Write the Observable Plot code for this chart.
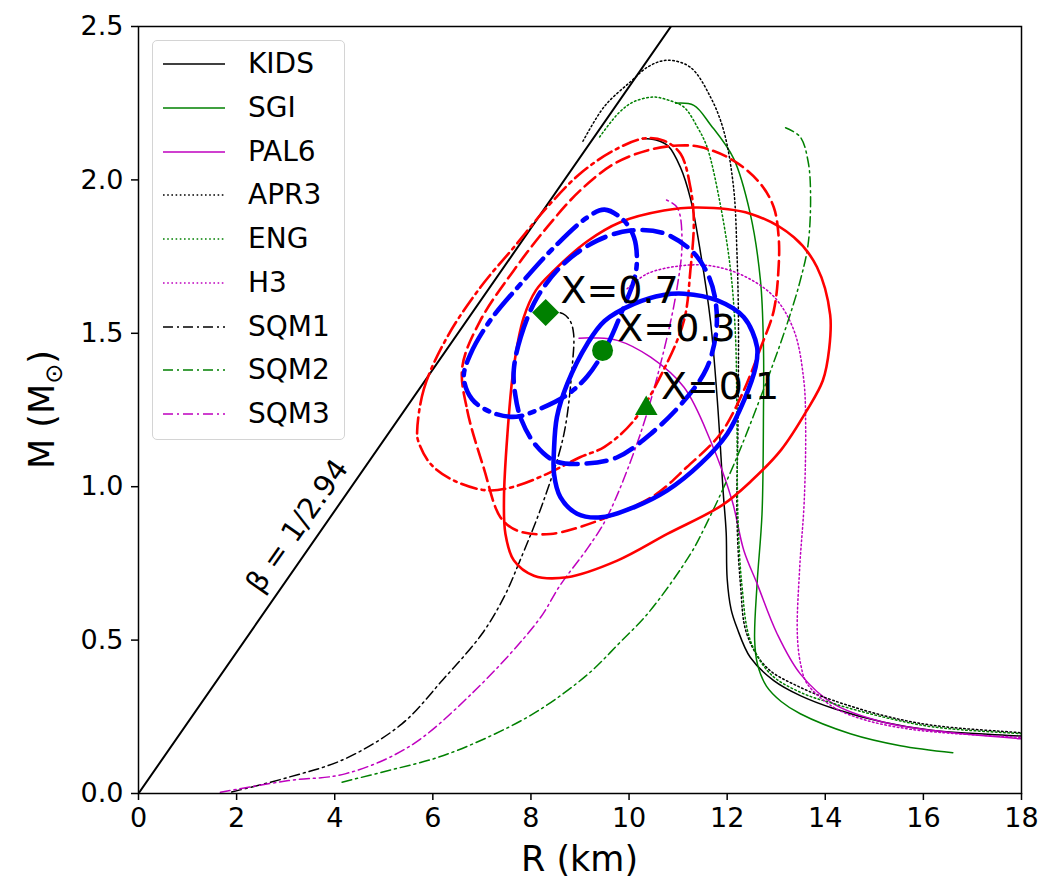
<!DOCTYPE html>
<html><head><meta charset="utf-8">
<script src="https://cdn.jsdelivr.net/npm/d3@7"></script>
<script src="https://cdn.jsdelivr.net/npm/@observablehq/plot@0.6"></script>
<style>
body{margin:0;background:#fff;font-family:"DejaVu Sans",sans-serif}
#wrap{position:relative;width:1060px;height:881px}
#legend{position:absolute;left:152px;top:40px;width:193px;height:400px;border:1.5px solid #d4d4d4;border-radius:5px;background:rgba(255,255,255,0.85);box-sizing:border-box}
.lg-row{position:absolute;left:0;height:40px;width:190px}
.lg-row svg{position:absolute;left:10px;top:0}
.lg-row span{position:absolute;left:95px;top:50%;transform:translateY(-50%);font-size:28px;color:#000;line-height:1;white-space:nowrap}
</style></head>
<body><div id="wrap"></div>
<script>
// ---- EOS mass-radius curves (R in km, M in solar masses) ----
const KIDS_R = [10.27, 10.55, 10.8, 11.05, 11.25, 11.46, 11.66, 11.8, 11.92, 11.98, 12.0, 12.08, 12.2, 12.47, 12.95, 13.49, 14.17, 15.19, 16.2, 18.0, 18.6];
const KIDS_M = [2.135, 2.13, 2.11, 2.04, 1.94, 1.76, 1.54, 1.28, 0.98, 0.85, 0.70, 0.60, 0.54, 0.444, 0.368, 0.319, 0.277, 0.232, 0.205, 0.187, 0.18];
const SGI_R = [10.95, 11.32, 11.66, 12.13, 12.47, 12.68, 12.74, 12.74, 12.71, 12.61, 12.56, 12.62, 12.8, 13.1, 13.49, 14.51, 15.53, 16.6];
const SGI_M = [2.25, 2.243, 2.18, 2.07, 1.89, 1.67, 1.455, 1.24, 0.91, 0.684, 0.50, 0.42, 0.35, 0.30, 0.26, 0.195, 0.156, 0.133];
const PAL6_R = [8.98, 9.3, 9.76, 10.44, 11.12, 11.66, 12.1, 12.34, 12.61, 13.02, 13.49, 14.17, 15.19, 16.2, 18.0, 18.6];
const PAL6_M = [1.484, 1.485, 1.477, 1.422, 1.324, 1.15, 0.955, 0.792, 0.684, 0.52, 0.39, 0.292, 0.232, 0.205, 0.178, 0.172];
const APR3_R = [9.06, 9.5, 10.03, 10.4, 10.78, 11.25, 11.66, 11.93, 12.13, 12.2, 12.23, 12.22, 12.2, 12.27, 12.4, 12.81, 13.49, 14.17, 15.19, 16.2, 18.0, 18.6];
const APR3_M = [2.126, 2.24, 2.32, 2.37, 2.39, 2.367, 2.27, 2.16, 1.976, 1.76, 1.54, 1.2, 0.9, 0.684, 0.52, 0.41, 0.346, 0.303, 0.254, 0.222, 0.198, 0.19];
const ENG_R = [9.4, 9.8, 10.1, 10.5, 10.8, 11.12, 11.4, 11.59, 11.86, 12.07, 12.17, 12.2, 12.22, 12.3, 12.47, 12.88, 13.49, 14.17, 15.19, 16.2, 18.0, 18.6];
const ENG_M = [2.14, 2.22, 2.255, 2.27, 2.26, 2.237, 2.17, 2.107, 1.92, 1.705, 1.49, 1.2, 0.9, 0.68, 0.50, 0.39, 0.33, 0.293, 0.249, 0.217, 0.195, 0.19];
const H3_R = [9.96, 10.37, 11.05, 11.66, 12.3, 12.95, 13.36, 13.56, 13.6, 13.57, 13.48, 13.43, 13.5, 13.63, 14.17, 14.85, 15.67, 16.5, 18.0, 18.6];
const H3_M = [1.645, 1.694, 1.72, 1.72, 1.69, 1.62, 1.51, 1.35, 1.2, 0.95, 0.74, 0.52, 0.42, 0.358, 0.281, 0.238, 0.211, 0.197, 0.183, 0.178];
const SQM1_R = [1.9, 3.06, 4.21, 5.37, 6.2, 7.0, 7.45, 7.75, 8.26, 8.67, 8.84, 8.87, 8.8, 8.65, 8.45];
const SQM1_M = [0.005, 0.053, 0.113, 0.227, 0.37, 0.52, 0.64, 0.749, 0.955, 1.17, 1.39, 1.498, 1.54, 1.564, 1.57];
const SQM2_R = [4.15, 5.1, 6.11, 7.13, 8.15, 9.17, 9.8, 10.4, 11.25, 11.55, 12.13, 12.81, 13.2, 13.49, 13.65, 13.7, 13.65, 13.49, 13.19];
const SQM2_M = [0.037, 0.075, 0.118, 0.184, 0.27, 0.39, 0.49, 0.59, 0.78, 0.87, 1.07, 1.346, 1.52, 1.672, 1.79, 1.95, 2.06, 2.14, 2.17];
const SQM3_R = [1.67, 3.06, 4.21, 5.5, 6.79, 8.15, 8.6, 9.17, 9.55, 10.23, 10.71, 10.98, 11.08, 10.98, 10.71];
const SQM3_M = [0.004, 0.042, 0.064, 0.151, 0.325, 0.564, 0.68, 0.803, 0.9, 1.172, 1.444, 1.65, 1.80, 1.91, 1.938];

// ---- constraint contours ----
const RED01_R = [7.45, 7.52, 7.65, 7.85, 8.1, 8.47, 9.15, 9.82, 10.71, 11.4, 12.47, 13.36, 13.83, 14.1, 14.08, 13.95, 13.63, 13.1, 12.5, 11.9, 10.78, 9.76, 8.74, 8.06, 7.65, 7.48];
const RED01_M = [0.96, 1.17, 1.39, 1.55, 1.64, 1.705, 1.80, 1.862, 1.90, 1.91, 1.89, 1.813, 1.716, 1.56, 1.45, 1.346, 1.25, 1.12, 1.02, 0.94, 0.846, 0.759, 0.705, 0.71, 0.76, 0.846];
const RED03_R = [6.6, 6.7, 7.04, 7.38, 7.72, 8.4, 9.55, 10.5, 11.18, 11.86, 12.3, 12.7, 12.95, 13.05, 13.05, 12.95, 12.68, 12.13, 11.46, 11.0, 10.37, 9.69, 9.0, 8.33, 7.65, 6.97];
const RED03_M = [1.39, 1.25, 1.06, 0.9, 0.857, 0.846, 0.9, 0.97, 1.064, 1.172, 1.3, 1.46, 1.574, 1.72, 1.813, 1.911, 1.987, 2.063, 2.107, 2.112, 2.096, 2.052, 1.965, 1.846, 1.705, 1.542];
const RED07_R = [5.68, 5.82, 6.29, 6.97, 7.65, 8.33, 9.0, 9.69, 10.3, 10.71, 11.05, 11.25, 11.32, 11.25, 11.12, 10.7, 10.1, 9.5, 9.0, 8.33, 7.65, 7.11, 6.43, 5.95, 5.7];
const RED07_M = [1.18, 1.32, 1.487, 1.65, 1.78, 1.911, 2.02, 2.096, 2.135, 2.128, 2.085, 1.976, 1.868, 1.705, 1.542, 1.379, 1.216, 1.13, 1.096, 1.042, 1.0, 0.988, 1.02, 1.075, 1.15];
const BLUE01_R = [8.47, 8.53, 8.74, 9.15, 9.5, 10.1, 10.7, 11.12, 11.8, 12.34, 12.61, 12.58, 12.34, 12.0, 11.46, 10.78, 10.1, 9.42, 8.94, 8.6, 8.47];
const BLUE01_M = [1.12, 1.227, 1.335, 1.466, 1.54, 1.596, 1.625, 1.629, 1.607, 1.552, 1.455, 1.39, 1.28, 1.172, 1.075, 0.988, 0.933, 0.9, 0.912, 0.966, 1.042];
const BLUE03_R = [7.65, 7.79, 8.13, 8.67, 9.35, 10.03, 10.71, 11.3, 11.6, 11.75, 11.78, 11.58, 11.12, 10.44, 9.76, 9.08, 8.5, 8.1, 7.8, 7.68];
const BLUE03_M = [1.38, 1.487, 1.618, 1.727, 1.802, 1.835, 1.826, 1.765, 1.694, 1.618, 1.51, 1.385, 1.28, 1.172, 1.096, 1.075, 1.083, 1.135, 1.22, 1.3];
const BLUE07_R = [6.63, 6.77, 7.17, 7.79, 8.47, 9.15, 9.5, 9.89, 10.1, 10.16, 10.1, 9.89, 9.55, 9.15, 8.74, 8.2, 7.7, 7.2, 6.8];
const BLUE07_M = [1.357, 1.433, 1.542, 1.661, 1.78, 1.878, 1.903, 1.868, 1.813, 1.737, 1.672, 1.585, 1.46, 1.36, 1.3, 1.255, 1.228, 1.242, 1.285];

// ---- markers and labels ----
const markerLabels = ["X=0.7", "X=0.3", "X=0.1"];
const markerR = [8.3, 9.46, 10.35];
const markerM = [1.568, 1.444, 1.255];
const markerSymbols = ["diamond2", "circle", "triangle"];
const markerSizes = [12.2, 10.5, 8.4];
const labelR = [8.6, 9.76, 10.65];
const labelM = [1.598, 1.474, 1.285];

// compactness line beta = GM/(Rc^2) = 1/2.94
const betaR = [0, 11.5];
const betaLabel = ["β = 1/2.94"];
const betaLabelR = [3.24];
const betaLabelM = [0.872];

const xTicks = [0, 2, 4, 6, 8, 10, 12, 14, 16, 18];
const yTicks = [0.0, 0.5, 1.0, 1.5, 2.0, 2.5];

const eosNames = ["KIDS", "SGI", "PAL6", "APR3", "ENG", "H3", "SQM1", "SQM2", "SQM3"];
const eosR = [KIDS_R, SGI_R, PAL6_R, APR3_R, ENG_R, H3_R, SQM1_R, SQM2_R, SQM3_R];
const eosM = [KIDS_M, SGI_M, PAL6_M, APR3_M, ENG_M, H3_M, SQM1_M, SQM2_M, SQM3_M];

const BLACK = "#000000", GREEN = "#008000", MAG = "#bf00bf", RED = "#ff0000", BLUE = "#0000ff";
const eosColors = [BLACK, GREEN, MAG, BLACK, GREEN, MAG, BLACK, GREEN, MAG];
const DOT = "1.6,2.6", DASHDOT = "10,4,2,4";
const eosDash = [null, null, null, DOT, DOT, DOT, DASHDOT, DASHDOT, DASHDOT];

const contourR = [RED01_R, RED03_R, RED07_R, BLUE01_R, BLUE03_R, BLUE07_R];
const contourM = [RED01_M, RED03_M, RED07_M, BLUE01_M, BLUE03_M, BLUE07_M];
const contourColors = [RED, RED, RED, BLUE, BLUE, BLUE];
const contourWidths = [2.6, 2.6, 2.6, 4.6, 4.6, 4.6];
const contourDash = [null, "14,6", "16,5,3,5", null, "20,9", "26,8,5,8"];

const toRows = (R, M) => R.map((r, i) => ({R: r, M: M[i]}));
const betaRows = betaR.map(r => ({R: r, M: r / (2.94 * 1.4766)}));

const marks = [];
marks.push(Plot.line(betaRows, {x: "R", y: "M", stroke: BLACK, strokeWidth: 2, clip: true}));
eosR.forEach((R, i) => {
  marks.push(Plot.line(toRows(R, eosM[i]), {x: "R", y: "M", stroke: eosColors[i], strokeWidth: 1.5,
    strokeDasharray: eosDash[i] || undefined, curve: "catmull-rom", clip: true}));
});
contourR.forEach((R, i) => {
  marks.push(Plot.line(toRows(R, contourM[i]), {x: "R", y: "M", stroke: contourColors[i], strokeWidth: contourWidths[i],
    strokeDasharray: contourDash[i] || undefined, curve: "catmull-rom-closed", clip: true}));
});
markerR.forEach((r, i) => {
  marks.push(Plot.dot([{R: r, M: markerM[i]}], {x: "R", y: "M", symbol: markerSymbols[i], r: markerSizes[i], fill: GREEN, stroke: "none"}));
});
marks.push(Plot.text(labelR.map((r, i) => ({R: r, M: labelM[i], t: markerLabels[i]})),
  {x: "R", y: "M", text: "t", textAnchor: "start", lineAnchor: "bottom", fontSize: 38, fill: BLACK}));
marks.push(Plot.text(betaLabel.map((t, i) => ({R: betaLabelR[i], M: betaLabelM[i], t})),
  {x: "R", y: "M", text: "t", rotate: -55, fontSize: 29, fill: BLACK}));
marks.push(Plot.frame({stroke: BLACK, strokeWidth: 1.5}));
marks.push(Plot.axisX({ticks: xTicks, tickSize: 7, tickPadding: 7, fontSize: 27, label: null, strokeWidth: 1.5, tickFormat: d => String(d)}));
marks.push(Plot.axisY({ticks: yTicks, tickSize: 7, tickPadding: 8, fontSize: 27, label: null, strokeWidth: 1.5, tickFormat: d3.format(".1f")}));

const chart = Plot.plot({
  width: 1060, height: 881,
  marginLeft: 138, marginRight: 39, marginTop: 26, marginBottom: 88,
  x: {domain: [0, 18]},
  y: {domain: [0, 2.5]},
  style: {fontFamily: "DejaVu Sans", color: "black", background: "white"},
  marks
});

const svg = d3.select(chart);
svg.append("text").attr("x", 579.5).attr("y", 871).attr("text-anchor", "middle")
  .attr("font-size", 35).attr("fill", "black").attr("font-family", "DejaVu Sans").text("R (km)");
const ylab = svg.append("text").attr("transform", "translate(54,409.5) rotate(-90)").attr("text-anchor", "middle")
  .attr("font-size", 35).attr("fill", "black").attr("font-family", "DejaVu Sans");
ylab.append("tspan").text("M (M");
ylab.append("tspan").attr("font-size", 24).attr("dy", 8).text("⊙");
ylab.append("tspan").attr("dy", -8).text(")");

const wrap = document.getElementById("wrap");
wrap.appendChild(chart);

// legend
const legend = document.createElement("div");
legend.id = "legend";
eosNames.forEach((name, i) => {
  const row = document.createElement("div");
  row.className = "lg-row";
  row.style.top = (63.3 + 43.7 * i - 40 - 20) + "px";
  const s = d3.create("svg").attr("width", 62).attr("height", 40);
  s.append("line").attr("x1", 0).attr("x2", 62).attr("y1", 20).attr("y2", 20)
    .attr("stroke", eosColors[i]).attr("stroke-width", 1.5)
    .attr("stroke-dasharray", eosDash[i] || null);
  row.appendChild(s.node());
  const sp = document.createElement("span");
  sp.textContent = name;
  row.appendChild(sp);
  legend.appendChild(row);
});
wrap.appendChild(legend);
</script>
</body></html>
